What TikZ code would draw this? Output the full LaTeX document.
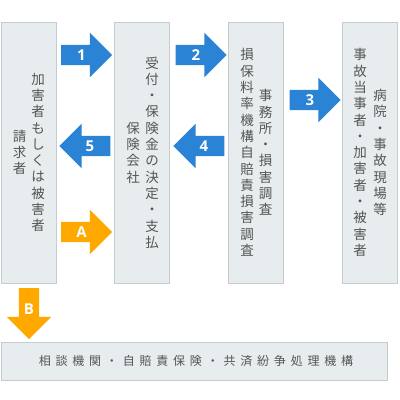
\documentclass[tikz,border=0pt]{standalone}
\usepackage{fontspec}
\setmainfont{Open Sans}
\newfontfamily\jp{Noto Sans CJK JP}
\newfontfamily\jpwide{Noto Sans CJK JP}[LetterSpace=40]
\usepackage{tikz}
\usetikzlibrary{shapes.arrows,positioning}
\definecolor{boxCol}{HTML}{E7ECEF}
\definecolor{boxEdge}{HTML}{C6CBCE}
\definecolor{txtCol}{HTML}{555555}
\definecolor{blueCol}{HTML}{2A83D5}
\definecolor{orgCol}{HTML}{FFA800}
\tikzset{
  pane/.style={draw=boxEdge, fill=boxCol, line width=0.8pt, minimum width=55pt,
        minimum height=261pt, inner sep=0pt},
  vtext/.style={text=txtCol, align=center, inner sep=0pt,
        font=\jp\fontsize{13.5}{16.3}\selectfont},
  bigarrow/.style={single arrow, fill=#1, draw=none, text=white,
        font=\bfseries\fontsize{15}{15}\selectfont, align=center,
        text height=11pt, text depth=0pt, text width=11pt, inner sep=4.5pt,
        single arrow head extend=12pt, minimum height=51pt},
}
\begin{document}
\begin{tikzpicture}[x=1pt, y=-1pt]
  \useasboundingbox (0,0) rectangle (400,400);
  % four columns
  \node[pane] (claim)   at (28.5,152.5) {};
  \node[pane] (insurer) at (142,152.5) {};
  \node[pane] (survey)  at (256,152.5) {};
  \node[pane] (party)   at (370,152.5) {};
  % bottom bar
  \node[pane, minimum width=386pt, minimum height=38pt] (adr) at (194,361) {};
  % vertical texts
  \node[vtext] (claimR) at (38,152.5) {加\\害\\者\\も\\し\\く\\は\\被\\害\\者};
  \node[vtext] (claimL) at (19.5,152.5) {請\\求\\者};
  \node[vtext] (insR) at (152,152.5) {受\\付\\・\\保\\険\\金\\の\\決\\定\\・\\支\\払};
  \node[vtext] (insL) at (133,152.5) {保\\険\\会\\社};
  \node[vtext] (survL) at (247,152.5) {損\\保\\料\\率\\機\\構\\自\\賠\\責\\損\\害\\調\\査};
  \node[vtext] (survR) at (265.5,152.5) {事\\務\\所\\・\\損\\害\\調\\査};
  \node[vtext] (partyL) at (360,152.5) {事\\故\\当\\事\\者\\・\\加\\害\\者\\・\\被\\害\\者};
  \node[vtext] (partyR) at (380,152.5) {病\\院\\・\\事\\故\\現\\場\\等};
  \node[text=txtCol, inner sep=0pt, font=\jpwide\fontsize{12}{12}\selectfont]
    (adrT) at (196,361) {相談機関・自賠責保険・共済紛争処理機構};
  % block arrows
  \node[bigarrow=blueCol] (a1) at (81.5,55) {1};
  \node[bigarrow=blueCol] (a2) at (196,55) {2};
  \node[bigarrow=blueCol] (a3) at (310,100) {3};
  \node[bigarrow=blueCol, shape border rotate=180] (a4) at (204,146) {4};
  \node[bigarrow=blueCol, shape border rotate=180] (a5) at (90,146) {5};
  \node[bigarrow=orgCol] (aA) at (81.5,232) {A};
  \node[bigarrow=orgCol, shape border rotate=270] (aB) at (29,308.5) {B};
\end{tikzpicture}
\end{document}
